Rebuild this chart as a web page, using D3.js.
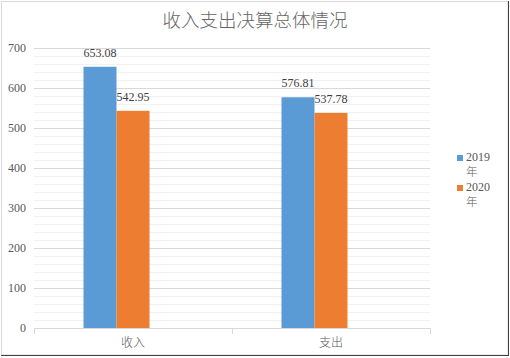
<!DOCTYPE html>
<html><head><meta charset="utf-8">
<script src="https://cdn.jsdelivr.net/npm/d3@7"></script>
<style>body{margin:0;background:#fff}svg{display:block}</style>
</head><body>
<script>
const categories = ["收入", "支出"];
const seriesNames = ["2019", "2020"];
const values2019 = [653.08, 576.81];
const values2020 = [542.95, 537.78];
const yTickValues = [0, 100, 200, 300, 400, 500, 600, 700];
const title = "收入支出决算总体情况";
const colors = ["#5b9bd5", "#ed7d31"];

const W = 510, H = 358;
const svg = d3.select("body").append("svg").attr("width", W).attr("height", H);
svg.append("rect").attr("x", 0).attr("y", 0).attr("width", W).attr("height", H).attr("fill", "#fff");
svg.append("rect").attr("x", 1.5).attr("y", 1.5).attr("width", 506.5).attr("height", 353.5)
  .attr("fill", "none").attr("stroke", "#d9d9d9");
svg.append("line").attr("x1", 508.5).attr("x2", 508.5).attr("y1", 1).attr("y2", 356).attr("stroke", "#404040");
svg.append("line").attr("x1", 1).attr("x2", 509).attr("y1", 355.5).attr("y2", 355.5).attr("stroke", "#404040");

const plot = {l: 34, r: 430, t: 48, b: 328};
const y = d3.scaleLinear().domain([0, 700]).range([plot.b, plot.t]);
const x0 = d3.scaleBand().domain(categories).range([plot.l, plot.r]).padding(0);
const bw = x0.bandwidth();
const x1 = d3.scaleBand().domain([...seriesNames, "_"]).range([bw / 4, bw * 3 / 4]);

// minor grid
const minor = d3.range(0, 701, 20).filter(v => v % 100 !== 0);
svg.append("g").selectAll("line").data(minor).join("line")
  .attr("x1", plot.l).attr("x2", plot.r)
  .attr("y1", d => Math.round(y(d)) + 0.5).attr("y2", d => Math.round(y(d)) + 0.5)
  .attr("stroke", "#f2f2f2");
// major grid
svg.append("g").selectAll("line").data(yTickValues.filter(v => v > 0)).join("line")
  .attr("x1", plot.l).attr("x2", plot.r)
  .attr("y1", d => Math.round(y(d)) + 0.5).attr("y2", d => Math.round(y(d)) + 0.5)
  .attr("stroke", "#d9d9d9");

// y tick labels
svg.append("g").selectAll("text").data(yTickValues).join("text")
  .attr("x", 26).attr("y", d => y(d)).attr("dy", "0.35em")
  .attr("text-anchor", "end")
  .attr("font-family", "Liberation Serif, serif").attr("font-size", 12)
  .attr("fill", "#595959").text(d => d);

// bars
const data = categories.map((c, i) => ({cat: c, vals: [values2019[i], values2020[i]]}));
const groups = svg.append("g").selectAll("g").data(data).join("g")
  .attr("transform", d => `translate(${x0(d.cat)},0)`);
groups.selectAll("rect").data(d => d.vals.map((v, j) => ({v, j}))).join("rect")
  .attr("x", d => x1(seriesNames[d.j])).attr("width", x1.bandwidth())
  .attr("y", d => y(d.v)).attr("height", d => y(0) - y(d.v))
  .attr("fill", d => colors[d.j]);
groups.selectAll("text").data(d => d.vals.map((v, j) => ({v, j}))).join("text")
  .attr("x", d => x1(seriesNames[d.j]) + x1.bandwidth() / 2)
  .attr("y", d => y(d.v) - 10)
  .attr("text-anchor", "middle")
  .attr("font-family", "Liberation Serif, serif").attr("font-size", 12)
  .attr("fill", "#404040").text(d => d.v.toFixed(2));

// x axis
const xa = svg.append("g");
xa.append("line").attr("x1", plot.l).attr("x2", plot.r).attr("y1", plot.b + 0.5).attr("y2", plot.b + 0.5).attr("stroke", "#d9d9d9");
const tickXs = [...categories.map(c => x0(c)), plot.r];
xa.selectAll("line.t").data(tickXs).join("line").attr("class", "t")
  .attr("x1", d => d + 0.5).attr("x2", d => d + 0.5)
  .attr("y1", plot.b).attr("y2", plot.b + 6).attr("stroke", "#d9d9d9");
xa.selectAll("text").data(categories).join("text")
  .attr("x", d => x0(d) + bw / 2).attr("y", 343).attr("dy", "0.35em")
  .attr("text-anchor", "middle")
  .attr("font-family", "Noto Sans CJK SC, sans-serif").attr("font-size", 12)
  .attr("font-weight", 300)
  .attr("fill", "#595959").text(d => d);

// title
svg.append("text").attr("x", 255).attr("y", 21).attr("dy", "0.35em")
  .attr("text-anchor", "middle")
  .attr("font-family", "Noto Sans CJK SC, sans-serif").attr("font-size", 18.5)
  .attr("font-weight", 300)
  .attr("fill", "#666666").text(title);

// legend
const lg = svg.append("g").selectAll("g").data(seriesNames).join("g")
  .attr("transform", (d, i) => `translate(457,${158 + i * 30})`);
lg.append("rect").attr("x", 0).attr("y", -3).attr("width", 6).attr("height", 6)
  .attr("fill", (d, i) => colors[i]);
lg.append("text").attr("x", 9).attr("y", -1).attr("dy", "0.35em")
  .attr("font-family", "Liberation Serif, serif").attr("font-size", 12)
  .attr("fill", "#595959").text(d => d);
lg.append("text").attr("x", 9).attr("y", 14).attr("dy", "0.35em")
  .attr("font-family", "Noto Sans CJK SC, sans-serif").attr("font-size", 11.5)
  .attr("font-weight", 300)
  .attr("fill", "#595959").text("年");
</script>
</body></html>
